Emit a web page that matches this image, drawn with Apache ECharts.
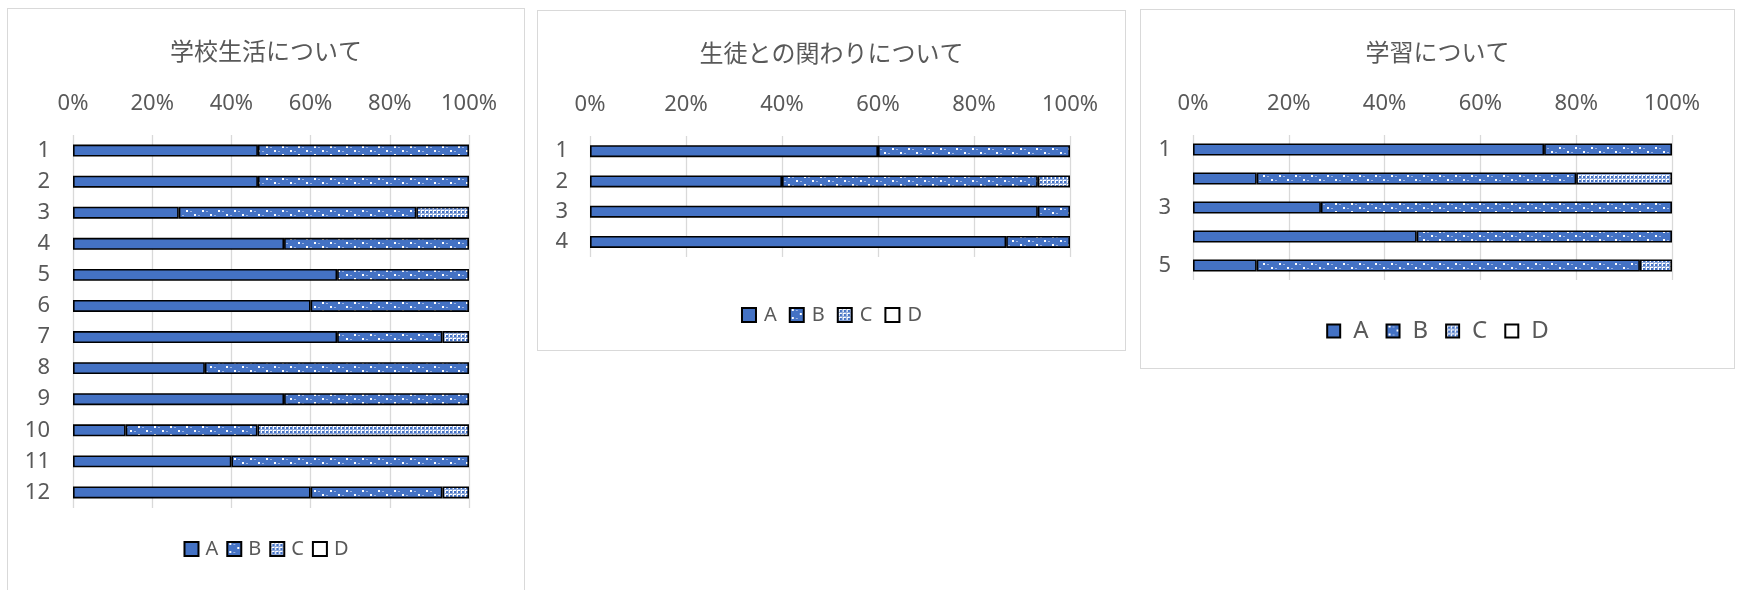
<!DOCTYPE html>
<html>
<head>
<meta charset="utf-8">
<script src="https://cdn.jsdelivr.net/npm/echarts@6/dist/echarts.min.js"></script>
<style>
  html, body { margin: 0; padding: 0; background: #fff; width: 1737px; height: 590px; overflow: hidden; }
  .panel { position: absolute; border: 1px solid #D9D9D9; background: #fff; box-sizing: border-box; }
  #p1 { left: 7px; top: 8px; width: 518px; height: 600px; }
  #p2 { left: 537px; top: 10px; width: 589px; height: 341px; }
  #p3 { left: 1140px; top: 9px; width: 595px; height: 360px; }
</style>
</head>
<body>
<div id="p1" class="panel"></div>
<div id="p2" class="panel"></div>
<div id="p3" class="panel"></div>
<script>
// ---------- data ----------
const legendNames = ['A', 'B', 'C', 'D'];
const xTicks = [0, 20, 40, 60, 80, 100];

const title1 = '学校生活について';
const cats1 = ['1','2','3','4','5','6','7','8','9','10','11','12'];
const p1A = [46.7, 46.7, 26.7, 53.3, 66.7, 60, 66.7, 33.3, 53.3, 13.3, 40, 60];
const p1B = [53.3, 53.3, 60, 46.7, 33.3, 40, 26.6, 66.7, 46.7, 33.3, 60, 33.3];
const p1C = [0, 0, 13.3, 0, 0, 0, 6.7, 0, 0, 53.4, 0, 6.7];
const p1D = [0, 0, 0, 0, 0, 0, 0, 0, 0, 0, 0, 0];

const title2 = '生徒との関わりについて';
const cats2 = ['1','2','3','4'];
const p2A = [60, 40, 93.3, 86.7];
const p2B = [40, 53.3, 6.7, 13.3];
const p2C = [0, 6.7, 0, 0];
const p2D = [0, 0, 0, 0];

const title3 = '学習について';
const cats3 = ['1','2','3','4','5'];
const p3A = [73.3, 13.3, 26.7, 46.7, 13.3];
const p3B = [26.7, 66.7, 73.3, 53.3, 80];
const p3C = [0, 20, 0, 0, 6.7];
const p3D = [0, 0, 0, 0, 0];

// ---------- styles ----------
const BLUE = '#4472C4';
const TXT = '#595959';
const FONT = '"Noto Sans", "Noto Sans CJK JP", sans-serif';

function patternB() {
  const c = document.createElement('canvas');
  c.width = 16; c.height = 8;
  const g = c.getContext('2d');
  g.fillStyle = BLUE; g.fillRect(0, 0, 16, 8);
  g.fillStyle = '#ffffff';
  g.fillRect(2, 1, 2, 2);
  g.fillRect(10, 5, 2, 2);
  g.fillStyle = '#9DB3E0';
  g.fillRect(6, 2, 2, 1);
  g.fillRect(14, 6, 2, 1);
  return c;
}
function patternC() {
  const c = document.createElement('canvas');
  c.width = 4; c.height = 4;
  const g = c.getContext('2d');
  g.fillStyle = '#ffffff'; g.fillRect(0, 0, 4, 4);
  g.fillStyle = '#8FAADC'; g.fillRect(0, 0, 4, 1); g.fillRect(0, 0, 1, 4);
  g.fillStyle = BLUE; g.fillRect(2, 2, 2, 2);
  return c;
}
const fills = [
  BLUE,
  { image: patternB(), repeat: 'repeat' },
  { image: patternC(), repeat: 'repeat' },
  '#ffffff'
];

function build(el, cfg) {
  const chart = echarts.init(document.getElementById(el), null, { renderer: 'canvas' });
  const seriesData = [cfg.A, cfg.B, cfg.C, cfg.D];
  const series = legendNames.map((n, i) => ({
    name: n,
    type: 'bar',
    stack: 'total',
    barWidth: cfg.barWidth,
    data: seriesData[i].map(v => (v === 0 ? '-' : v)),
    itemStyle: { color: fills[i], borderColor: '#000', borderWidth: 1.6 },
    emphasis: { disabled: true },
    animation: false
  }));
  chart.setOption({
    animation: false,
    textStyle: { fontFamily: FONT },
    title: {
      text: cfg.title, left: 'center', top: cfg.titleTop,
      textStyle: { color: TXT, fontSize: 24, fontWeight: 'normal', fontFamily: '"Noto Sans CJK JP", sans-serif' }
    },
    legend: {
      data: legendNames, left: 'center', top: cfg.legendTop,
      itemWidth: cfg.legendIcon, itemHeight: cfg.legendIcon, itemGap: cfg.legendGap,
      icon: 'rect',
      textStyle: { color: TXT, fontSize: cfg.legendFont, fontFamily: FONT, padding: [0, 0, 0, cfg.legendPad] },
      selectedMode: false
    },
    grid: { left: cfg.left, right: cfg.right, top: cfg.top, height: cfg.height, containLabel: false },
    xAxis: {
      type: 'value', position: 'top', min: xTicks[0], max: xTicks[xTicks.length - 1], interval: xTicks[1] - xTicks[0],
      axisLine: { show: false }, axisTick: { show: false },
      axisLabel: { formatter: '{value}%', color: TXT, fontSize: 22, margin: 20, fontFamily: FONT },
      splitLine: { show: true, lineStyle: { color: '#D9D9D9', width: 1.3 } }
    },
    yAxis: {
      type: 'category', inverse: true, data: cfg.cats,
      axisLine: { show: false }, axisTick: { show: false },
      axisLabel: { color: TXT, fontSize: 22, margin: cfg.catMargin, interval: cfg.catInterval, fontFamily: FONT }
    },
    series: series
  });
}

build('p1', { title: title1, cats: cats1, A: p1A, B: p1B, C: p1C, D: p1D,
  titleTop: 25, top: 126, left: 65, right: 55, height: 373, barWidth: 12,
  legendTop: 525, legendIcon: 14, legendGap: 8, legendFont: 20, legendPad: 2, catMargin: 23, catInterval: 0 });
build('p2', { title: title2, cats: cats2, A: p2A, B: p2B, C: p2C, D: p2D,
  titleTop: 25, top: 125, left: 52, right: 55, height: 121, barWidth: 12,
  legendTop: 289, legendIcon: 14, legendGap: 12, legendFont: 20, legendPad: 3, catMargin: 22, catInterval: 0 });
build('p3', { title: title3, cats: cats3, A: p3A, B: p3B, C: p3C, D: p3D,
  titleTop: 25, top: 125, left: 52, right: 62, height: 145, barWidth: 12,
  legendTop: 304, legendIcon: 13, legendGap: 17, legendFont: 24, legendPad: 8, catMargin: 22, catInterval: 1 });
</script>
</body>
</html>
